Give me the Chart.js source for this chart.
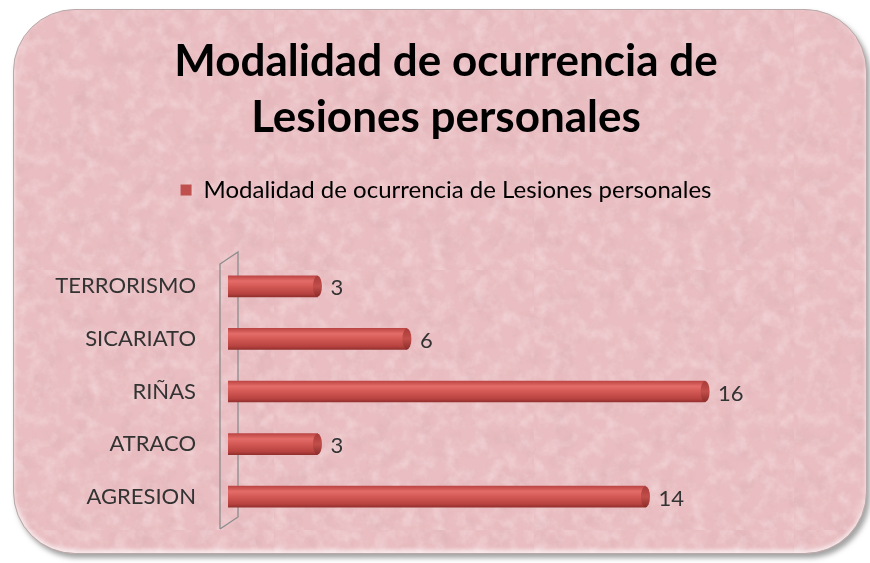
<!DOCTYPE html>
<html>
<head>
<meta charset="utf-8">
<script src="https://cdn.jsdelivr.net/npm/chart.js@4"></script>
<style>
  html, body { margin: 0; padding: 0; background: #fff; }
  #wrap { position: relative; width: 870px; height: 563px; }
  #card {
    position: absolute; left: 13px; top: 9px; width: 852px; height: 543px;
    border-radius: 62px;
    background-color: #e9bdc1;
    background-image:
      url("data:image/svg+xml;utf8,<svg xmlns='http://www.w3.org/2000/svg' width='260' height='260'><filter id='n'><feTurbulence type='fractalNoise' baseFrequency='0.07' numOctaves='4' seed='3'/><feColorMatrix values='0 0 0 0 1  0 0 0 0 0.93  0 0 0 0 0.94  0 0 0 0.7 -0.3'/></filter><rect width='260' height='260' filter='url(%23n)'/></svg>"),
      url("data:image/svg+xml;utf8,<svg xmlns='http://www.w3.org/2000/svg' width='300' height='300'><filter id='n'><feTurbulence type='fractalNoise' baseFrequency='0.05' numOctaves='4' seed='9'/><feColorMatrix values='0 0 0 0 0.6  0 0 0 0 0.35  0 0 0 0 0.38  0 0 0 0.6 -0.3'/></filter><rect width='300' height='300' filter='url(%23n)'/></svg>");
    border: 1px solid #b9a9aa;
    box-shadow: 3px 4px 5px rgba(90,90,90,0.55), inset 0 -3px 4px rgba(255,255,255,0.7);
  }
  canvas { position: absolute; left: 0; top: 0; }
</style>
</head>
<body>
<div id="wrap">
  <div id="card"></div>
  <canvas id="chart" width="870" height="563"></canvas>
</div>
<script>
const categories = ['TERRORISMO', 'SICARIATO', 'RIÑAS', 'ATRACO', 'AGRESION'];
const values = [3, 6, 16, 3, 14];
const seriesName = 'Modalidad de ocurrencia de Lesiones personales';
const titleLines = ['Modalidad de ocurrencia de', 'Lesiones personales'];

const FONT = 'Lato, "Open Sans", sans-serif';
const BAR = 21;

// cylinder shading across the bar thickness
function barFill(c) {
  const chart = c.chart;
  const y = chart.scales.y;
  if (!y || c.dataIndex === undefined) return '#c0504d';
  const cy = y.getPixelForValue(c.dataIndex);
  const g = chart.ctx.createLinearGradient(0, cy - BAR / 2, 0, cy + BAR / 2);
  g.addColorStop(0, '#bc4644');
  g.addColorStop(0.25, '#e46c68');
  g.addColorStop(0.5, '#d35955');
  g.addColorStop(0.85, '#b7423f');
  g.addColorStop(1, '#93302e');
  return g;
}

const legendGap = {
  id: 'legendGap',
  beforeInit(chart) {
    const fit = chart.legend.fit;
    chart.legend.fit = function () {
      fit.bind(chart.legend)();
      this.height += 48;
    };
  }
};

const axisWall = {
  id: 'axisWall',
  beforeDatasetsDraw(chart) {
    const { ctx, chartArea } = chart;
    const x0 = chartArea.left - 8, x1 = chartArea.left + 10;
    ctx.save();
    ctx.strokeStyle = '#8c8c8c';
    ctx.lineWidth = 1.3;
    ctx.beginPath();
    ctx.moveTo(x0, chartArea.bottom + 6);
    ctx.lineTo(x0, chartArea.top + 4);
    ctx.lineTo(x1, chartArea.top - 8);
    ctx.lineTo(x1, chartArea.bottom - 6);
    ctx.lineTo(x0, chartArea.bottom + 6);
    ctx.stroke();
    ctx.restore();
  }
};

const capsAndLabels = {
  id: 'capsAndLabels',
  afterDatasetsDraw(chart) {
    const { ctx } = chart;
    const meta = chart.getDatasetMeta(0);
    ctx.save();
    meta.data.forEach((el, i) => {
      const h = BAR / 2;
      // end cap
      const g = ctx.createLinearGradient(0, el.y - h, 0, el.y + h);
      g.addColorStop(0, '#a83c3a');
      g.addColorStop(0.5, '#c24e4a');
      g.addColorStop(1, '#8a2c2a');
      ctx.fillStyle = g;
      ctx.beginPath();
      ctx.ellipse(el.x, el.y, 4.5, h, 0, 0, Math.PI * 2);
      ctx.fill();
      // value label
      ctx.fillStyle = '#333';
      ctx.font = '22px ' + FONT;
      ctx.textAlign = 'left';
      ctx.textBaseline = 'middle';
      ctx.fillText(String(values[i]), el.x + 13, el.y + 2);
    });
    ctx.restore();
  }
};

new Chart(document.getElementById('chart'), {
  type: 'bar',
  data: {
    labels: categories,
    datasets: [{
      label: seriesName,
      data: values,
      backgroundColor: barFill,
      borderWidth: 0,
      barThickness: BAR
    }]
  },
  options: {
    indexAxis: 'y',
    responsive: false,
    animation: false,
    layout: { padding: { top: 26, right: 0, bottom: 40, left: 22 } },
    scales: {
      x: { display: false, min: 0, max: 21.53 },
      y: {
        grid: { display: false },
        border: { display: false },
        ticks: { color: '#333', padding: 24, font: { family: FONT, size: 22 } },
        afterFit(scale) { scale.width = 206; }
      }
    },
    plugins: {
      title: {
        display: true,
        text: titleLines,
        color: '#000',
        font: { family: FONT, size: 44, weight: 'bold', lineHeight: 1.273 },
        padding: { top: 8, bottom: 22 }
      },
      legend: {
        display: true,
        labels: {
          color: '#333',
          font: { family: FONT, size: 24 },
          boxWidth: 11,
          boxHeight: 11,
          padding: 10,
          generateLabels(chart) {
            return [{ text: seriesName, fillStyle: '#c0504d', strokeStyle: '#c0504d', lineWidth: 0, datasetIndex: 0 }];
          }
        }
      },
      tooltip: { enabled: false }
    }
  },
  plugins: [legendGap, axisWall, capsAndLabels]
});
</script>
</body>
</html>
